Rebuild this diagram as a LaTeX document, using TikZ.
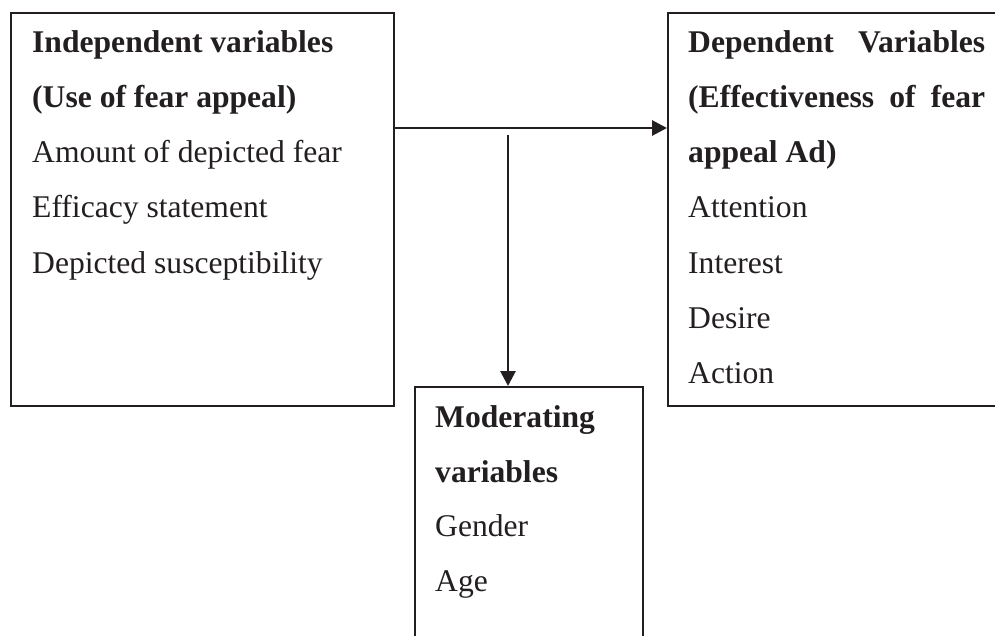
\documentclass[tikz,border=0pt]{standalone}
\usepackage{fontspec}
\setmainfont{Liberation Serif}
\usetikzlibrary{arrows.meta}
\definecolor{ink}{RGB}{35,31,32}
\begin{document}
\begin{tikzpicture}[x=1pt,y=-1pt,
  box/.style={draw=ink,line width=1.8pt,rectangle,inner sep=0pt,anchor=north west},
  txt/.style={anchor=base west,inner sep=0pt,text=ink,font=\fontsize{31.6}{38}\selectfont},
  hd/.style={anchor=base west,inner sep=0pt,text=ink,font=\fontsize{31.6}{38}\selectfont\bfseries},
  arr/.style={draw=ink,line width=2.8pt,-{Triangle[length=15pt,width=15pt]}}]
\useasboundingbox (0,0) rectangle (995,635);
\clip (0,0) rectangle (995,635);
% boxes
\node[box,minimum width=383pt,minimum height=393pt] (ind) at (10,12) {};
\node[box,minimum width=360pt,minimum height=393pt] (dep) at (667,12) {};
\node[box,minimum width=228pt,minimum height=280pt] (mod) at (414,386) {};
% left box text
\node[hd]  (l1) at (32,52.3)  {Independent variables};
\node[hd]  (l2) at (32,107.5) {(Use of fear appeal)};
\node[txt] (l3) at (32,162.7) {Amount of depicted fear};
\node[txt] (l4) at (32,217.9) {Efficacy statement};
\node[txt] (l5) at (32,273.1) {Depicted susceptibility};
% right box text
\node[hd]  (r1) at (688,52.3)  {\hbox to 297pt{Dependent\hfill Variables}};
\node[hd]  (r2) at (688,107.5) {\hbox to 297pt{(Effectiveness\hfill of\hfill fear}};
\node[hd]  (r3) at (688,162.7) {appeal Ad)};
\node[txt] (r4) at (688,217.9) {Attention};
\node[txt] (r5) at (688,273.1) {Interest};
\node[txt] (r6) at (688,328.3) {Desire};
\node[txt] (r7) at (688,383.5) {Action};
% middle box text
\node[hd]  (m1) at (435,427) {Moderating};
\node[hd]  (m2) at (435,482) {variables};
\node[txt] (m3) at (435,536) {Gender};
\node[txt] (m4) at (435,591) {Age};
% connectors
\coordinate (j) at (508,128);
\coordinate (js) at (508,135);
\draw[arr] (ind.east |- j) -- (dep.west |- j);
\draw[arr] (js) -- (mod.north -| j);
\end{tikzpicture}
\end{document}
